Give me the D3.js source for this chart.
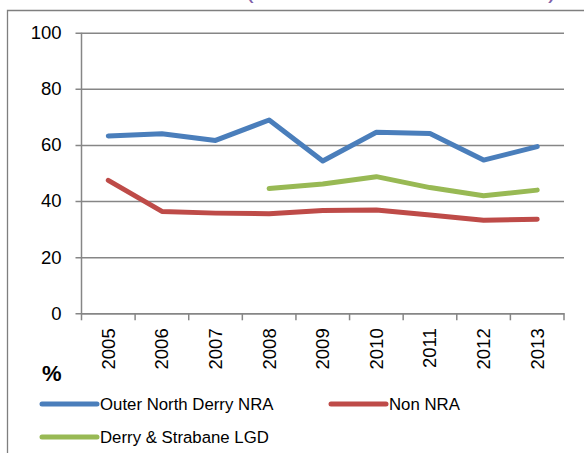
<!DOCTYPE html>
<html><head><meta charset="utf-8">
<script src="https://cdn.jsdelivr.net/npm/d3@7"></script>
<style>html,body{margin:0;padding:0;background:#fff;overflow:hidden}</style>
</head><body><svg id="c" width="584" height="453"></svg>
<script>
const years = ["2005","2006","2007","2008","2009","2010","2011","2012","2013"];
const outerNorthDerry = [63.2, 64.0, 61.6, 68.9, 54.3, 64.5, 64.1, 54.6, 59.4];
const nonNRA = [47.4, 36.3, 35.7, 35.5, 36.6, 36.8, 35.0, 33.2, 33.5];
const derryStrabane = [null, null, null, 44.5, 46.1, 48.7, 44.8, 41.9, 43.9];
const yTicks = [0, 20, 40, 60, 80, 100];
const seriesNames = ["Outer North Derry NRA", "Non NRA", "Derry & Strabane LGD"];
const colors = ["#4a7ebb", "#be4b48", "#98b954"];

const svg = d3.select("#c");
const font = "Liberation Sans, Arial, sans-serif";
const pLeft = 81.5, pRight = 564, pTop = 32.7, pBottom = 313.3;

// frame
svg.append("path").attr("d", "M7.5,453 V10.5 H584").attr("fill","none").attr("stroke","#7f7f7f").attr("stroke-width",1.3);

// cut-off title parens
svg.append("text").attr("x",245).attr("y",-2).attr("font-family",font).attr("font-size",26).attr("fill","#7f5fa8").text("(");
svg.append("text").attr("x",548).attr("y",-2).attr("font-family",font).attr("font-size",26).attr("fill","#7f5fa8").text(")");

const x = d3.scaleBand().domain(years).range([pLeft, pRight]);
const y = d3.scaleLinear().domain([0, 100]).range([pBottom, pTop]);

// gridlines + y ticks
const gy = svg.append("g").attr("transform", `translate(${pLeft},0)`)
  .call(d3.axisLeft(y).tickValues(yTicks).tickSize(-(pRight-pLeft)).tickSizeOuter(0).tickPadding(14));
gy.select(".domain").remove();
gy.selectAll(".tick line").attr("stroke","#868686").attr("stroke-width",1.5).attr("x1",-6);
gy.selectAll(".tick text").attr("font-family",font).attr("font-size",18.5).attr("fill","#000").attr("x",-20);
svg.append("line").attr("x1",pLeft).attr("x2",pLeft).attr("y1",pTop).attr("y2",pBottom).attr("stroke","#868686").attr("stroke-width",1.5);

// x axis
const gx = svg.append("g").attr("transform", `translate(0,${pBottom})`)
  .call(d3.axisBottom(x).tickSize(0).tickPadding(0));
gx.select(".domain").attr("stroke","#868686").attr("stroke-width",1.5);
gx.selectAll(".tick text").attr("font-family",font).attr("font-size",18.5).attr("fill","#000")
  .attr("transform","rotate(-90)").attr("text-anchor","end").attr("x",-15).attr("y",0).attr("dy","0.35em");
const bounds = years.map(d => x(d)).concat([pRight]);
svg.append("g").selectAll("line").data(bounds).join("line")
  .attr("x1",d=>d).attr("x2",d=>d).attr("y1",pBottom).attr("y2",pBottom+7)
  .attr("stroke","#868686").attr("stroke-width",1.5);

// lines
const allSeries = [outerNorthDerry, nonNRA, derryStrabane];
const line = d3.line().defined(d => d != null)
  .x((d,i) => x(years[i]) + x.bandwidth()/2).y(d => y(d));
allSeries.forEach((s, k) => {
  svg.append("path").datum(s).attr("d", line).attr("fill","none")
    .attr("stroke", colors[k]).attr("stroke-width",5).attr("stroke-linejoin","round").attr("stroke-linecap","round");
});

// % label
svg.append("text").attr("x",42).attr("y",381).attr("font-family",font).attr("font-size",22).attr("font-weight","bold").text("%");

// legend
const legendPos = [[42,404],[331,404],[42,437]];
seriesNames.forEach((n,k) => {
  const [lx, ly] = legendPos[k];
  svg.append("line").attr("x1",lx).attr("x2",lx+55).attr("y1",ly).attr("y2",ly)
    .attr("stroke",colors[k]).attr("stroke-width",5).attr("stroke-linecap","round");
  svg.append("text").attr("x",lx+58).attr("y",ly+6).attr("font-family",font).attr("font-size",16.8).attr("fill","#000").text(n);
});
</script></body></html>
